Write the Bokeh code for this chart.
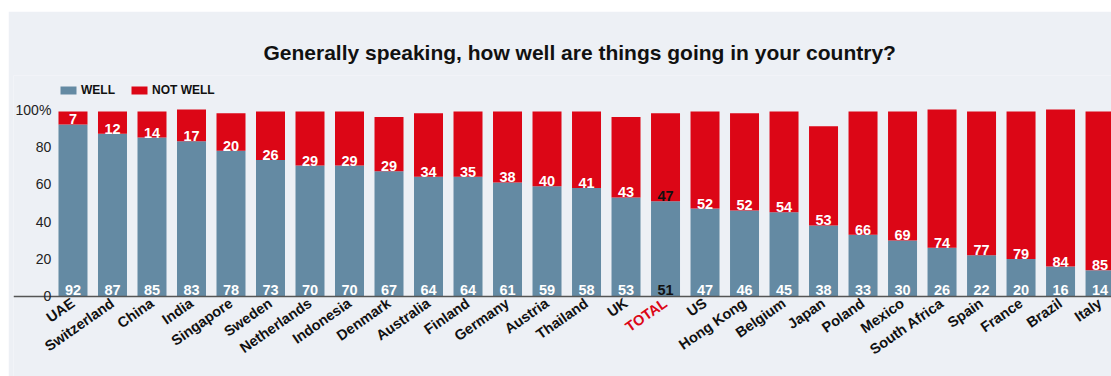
from bokeh.plotting import figure
from bokeh.models import (ColumnDataSource, Range1d, LinearAxis, FixedTicker,
                          Legend, LegendItem, Spacer)
from bokeh.layouts import row, column
from bokeh.core.properties import value
from bokeh.embed import file_html
from bokeh.resources import INLINE

# ---- data ----
countries = ["UAE", "Switzerland", "China", "India", "Singapore", "Sweden",
             "Netherlands", "Indonesia", "Denmark", "Australia", "Finland",
             "Germany", "Austria", "Thailand", "UK", "TOTAL", "US", "Hong Kong",
             "Belgium", "Japan", "Poland", "Mexico", "South Africa", "Spain",
             "France", "Brazil", "Italy"]
well = [92, 87, 85, 83, 78, 73, 70, 70, 67, 64, 64, 61, 59, 58, 53, 51, 47, 46,
        45, 38, 33, 30, 26, 22, 20, 16, 14]
not_well = [7, 12, 14, 17, 20, 26, 29, 29, 29, 34, 35, 38, 40, 41, 43, 47, 52,
            52, 54, 53, 66, 69, 74, 77, 79, 84, 85]
y_ticks = [0, 20, 40, 60, 80, 100]
y_tick_labels = ["0", "20", "40", "60", "80", "100%"]
series_names = ["WELL", "NOT WELL"]

# ---- style ----
BLUE = "#648AA3"
RED = "#DC0616"
BG = "#EDF0F5"
FONT = "Liberation Sans"

xs = list(range(len(countries)))
total_idx = countries.index("TOTAL")
txt_color = ["#111111" if c == "TOTAL" else "white" for c in countries]

src = ColumnDataSource(dict(
    x=xs, well=well, not_well=not_well,
    well_txt=[str(v) for v in well],
    not_txt=[str(v) for v in not_well],
    txt_color=txt_color,
))

p = figure(width=1103, height=365,
           x_range=Range1d(-1.506, 26.29), y_range=Range1d(-42.8, 118.2),
           output_backend="svg", toolbar_location=None,
           x_axis_location=None, y_axis_location=None,
           min_border_left=5, min_border_right=0,
           min_border_bottom=0, min_border_top=64)
p.background_fill_color = BG
p.border_fill_color = BG
p.outline_line_color = None
p.xgrid.visible = False
p.ygrid.visible = False

rs = p.vbar_stack(["well", "not_well"], x="x", width=0.734,
                  color=[BLUE, RED], line_color=None, source=src)

# value labels
p.text(x="x", y=0, text="well_txt", text_color="txt_color",
       text_font=value(FONT), text_font_style="bold", text_font_size="14.5px",
       text_align="center", text_baseline="alphabetic", y_offset=-6, source=src)
p.text(x="x", y="well", text="not_txt", text_color="txt_color",
       text_font=value(FONT), text_font_style="bold", text_font_size="14.5px",
       text_align="center", text_baseline="alphabetic", y_offset=-5, source=src)

# legend
legend = Legend(items=[LegendItem(label=series_names[0], renderers=[rs[0]]),
                       LegendItem(label=series_names[1], renderers=[rs[1]])],
                orientation="horizontal", location=(45, 279),
                glyph_width=20, glyph_height=10,
                label_text_font=FONT, label_text_font_size="12px",
                label_text_font_style="bold", label_text_color="#111111",
                label_standoff=3, spacing=14, padding=0, margin=0,
                border_line_color=None, background_fill_alpha=0)
p.add_layout(legend)

# y axis
yaxis = LinearAxis(ticker=FixedTicker(ticks=y_ticks),
                   major_label_overrides=dict(zip(y_ticks, y_tick_labels)),
                   fixed_location=-0.32,
                   axis_line_color=None, major_tick_line_color=None,
                   minor_tick_line_color=None, major_label_standoff=3,
                   major_label_text_font=FONT, major_label_text_font_size="14px",
                   major_label_text_color="#222222")
p.add_layout(yaxis, "left")

# x axis (black labels)
black_over = {i: ("" if c == "TOTAL" else c) for i, c in zip(xs, countries)}
xaxis = LinearAxis(ticker=FixedTicker(ticks=xs), major_label_overrides=black_over,
                   fixed_location=0, major_label_orientation=0.61,
                   axis_line_color="#555555", axis_line_width=1.5,
                   major_tick_line_color=None, minor_tick_line_color=None,
                   major_label_standoff=-1, major_label_text_font=FONT,
                   major_label_text_font_size="14.5px",
                   major_label_text_font_style="bold",
                   major_label_text_color="#111111")
p.add_layout(xaxis, "below")

# x axis (red TOTAL label)
xaxis2 = LinearAxis(ticker=FixedTicker(ticks=[total_idx]),
                    major_label_overrides={total_idx: countries[total_idx]},
                    fixed_location=0, major_label_orientation=0.61,
                    axis_line_color=None,
                    major_tick_line_color=None, minor_tick_line_color=None,
                    major_label_standoff=-1, major_label_text_font=FONT,
                    major_label_text_font_size="14.5px",
                    major_label_text_font_style="bold",
                    major_label_text_color=RED)
p.add_layout(xaxis2, "below")

# title
p.title.text = "Generally speaking, how well are things going in your country?"
p.title.align = "left"
p.title.offset = 250
p.title.standoff = 23
p.title.text_font = FONT
p.title.text_font_size = "21px"
p.title.text_font_style = "bold"
p.title.text_color = "#111111"

layout = row(Spacer(width=8), column(Spacer(height=11), p))
open("out.html", "w").write(file_html(layout, INLINE))
